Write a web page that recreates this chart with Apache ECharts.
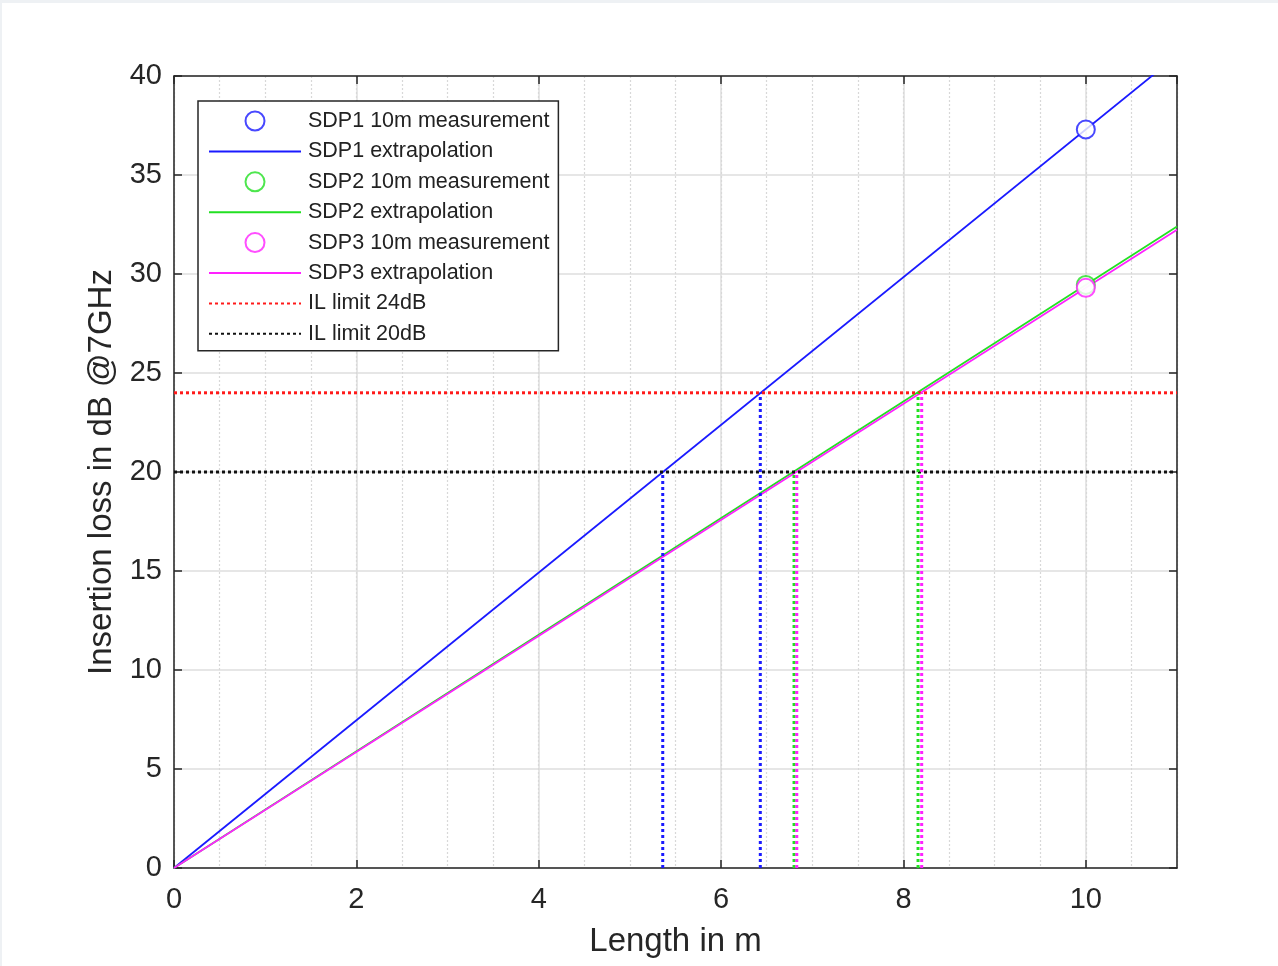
<!DOCTYPE html>
<html>
<head>
<meta charset="utf-8">
<script src="https://cdn.jsdelivr.net/npm/echarts@6/dist/echarts.min.js"></script>
<style>
  html, body { margin: 0; padding: 0; background: #eef1f4; }
  #myChart { position: absolute; left: 2px; top: 3px; width: 1276px; height: 963px; background: #fff; }
</style>
</head>
<body>
<div id="myChart"></div>
<script>
// values
const measLength = 10;
const measSdp1 = 37.3;
const measSdp2 = 29.45;
const measSdp3 = 29.3;
// extrapolated loss at the right edge (11 m)
const endLength = 11;
const endSdp1 = 41.03;
const endSdp2 = 32.4;
const endSdp3 = 32.23;
// limits and lengths where each line crosses them [20dB, 24dB]
const limits = [20, 24];
const crossSdp1 = [5.36, 6.43];
const crossSdp2 = [6.80, 8.16];
const crossSdp3 = [6.83, 8.20];

const FONT = 'Liberation Sans, Arial, sans-serif';
const TXT = '#262626';
const dot = [3, 3];

function vlines(xs, color) {
    return xs.map((x, i) => ({
        type: 'line',
        data: [[x, 0], [x, limits[i]]],
        symbol: 'none',
        silent: true,
        lineStyle: { color: color, width: 3, type: dot },
        z: 3
    }));
}

// line entries in the legend: hide the centre marker, keep the line
const lineItem = name => ({ name: name, itemStyle: { opacity: 0 } });
const circleItem = name => ({ name: name, icon: 'emptyCircle', itemStyle: { borderWidth: 2 } });

let chart = echarts.init(document.getElementById('myChart'));
chart.setOption({
    animation: false,
    textStyle: { fontFamily: FONT },
    grid: { left: 172, top: 73, right: 101, bottom: 98 },
    legend: {
        data: [
            circleItem('SDP1 10m measurement'),
            lineItem('SDP1 extrapolation'),
            circleItem('SDP2 10m measurement'),
            lineItem('SDP2 extrapolation'),
            circleItem('SDP3 10m measurement'),
            lineItem('SDP3 extrapolation'),
            lineItem('IL limit 24dB'),
            lineItem('IL limit 20dB')
        ],
        orient: 'vertical',
        left: 196, top: 98,
        itemWidth: 92, itemHeight: 19, itemGap: 8.4,
        padding: [9, 9, 6, 10],
        backgroundColor: '#fff',
        borderColor: '#262626', borderWidth: 1.5,
        textStyle: { fontFamily: FONT, fontSize: 21.5, color: '#222', padding: [0, 0, 0, 2] }
    },
    xAxis: [
        {
            type: 'value', min: 0, max: 11, interval: 2, position: 'bottom',
            name: 'Length in m', nameLocation: 'middle', nameGap: 57,
            nameTextStyle: { fontSize: 33, color: TXT, fontFamily: FONT },
            axisLine: { show: true, onZero: false, lineStyle: { color: TXT, width: 1.5 } },
            axisTick: { show: true, inside: true, length: 8, lineStyle: { color: TXT, width: 1.5 } },
            axisLabel: { fontSize: 29, color: TXT, margin: 17, showMaxLabel: false },
            splitLine: { show: true, lineStyle: { color: '#dedede', width: 1.5 } }
        },
        {
            type: 'value', min: 0, max: 11, interval: 2, position: 'top',
            axisLine: { show: true, onZero: false, lineStyle: { color: TXT, width: 1.5 } },
            axisTick: { show: true, inside: true, length: 8, lineStyle: { color: TXT, width: 1.5 } },
            axisLabel: { show: false },
            splitLine: { show: false }
        },
        {
            // minor grid every 0.5 m
            type: 'value', min: 0, max: 11, interval: 0.5, position: 'top',
            axisLine: { show: false }, axisTick: { show: false }, axisLabel: { show: false },
            splitLine: { show: true, lineStyle: { color: '#d8d8d8', width: 1.2, type: [2, 2] } }
        }
    ],
    yAxis: [
        {
            type: 'value', min: 0, max: 40, interval: 5, position: 'left',
            name: 'Insertion loss in dB @7GHz', nameLocation: 'middle', nameGap: 56,
            nameTextStyle: { fontSize: 33, color: TXT, fontFamily: FONT },
            axisLine: { show: true, onZero: false, lineStyle: { color: TXT, width: 1.5 } },
            axisTick: { show: true, inside: true, length: 8, lineStyle: { color: TXT, width: 1.5 } },
            axisLabel: { fontSize: 29, color: TXT, margin: 12 },
            splitLine: { show: true, lineStyle: { color: '#dedede', width: 1.5 } }
        },
        {
            type: 'value', min: 0, max: 40, interval: 5, position: 'right',
            axisLine: { show: true, onZero: false, lineStyle: { color: TXT, width: 1.5 } },
            axisTick: { show: true, inside: true, length: 8, lineStyle: { color: TXT, width: 1.5 } },
            axisLabel: { show: false },
            splitLine: { show: false }
        }
    ],
    series: [
        {
            name: 'SDP1 10m measurement', type: 'scatter', data: [[measLength, measSdp1]],
            symbol: 'emptyCircle', symbolSize: 18, z: 5,
            itemStyle: { color: '#1a1aff', borderWidth: 2 }
        },
        {
            name: 'SDP1 extrapolation', type: 'line', data: [[0, 0], [endLength, endSdp1]],
            symbol: 'none', lineStyle: { color: '#1a1aff', width: 1.8 }, itemStyle: { color: '#1a1aff' }
        },
        {
            name: 'SDP2 10m measurement', type: 'scatter', data: [[measLength, measSdp2]],
            symbol: 'emptyCircle', symbolSize: 18, z: 5,
            itemStyle: { color: '#22e022', borderWidth: 2 }
        },
        {
            name: 'SDP2 extrapolation', type: 'line', data: [[0, 0], [endLength, endSdp2]],
            symbol: 'none', lineStyle: { color: '#22e022', width: 1.8 }, itemStyle: { color: '#22e022' }
        },
        {
            name: 'SDP3 10m measurement', type: 'scatter', data: [[measLength, measSdp3]],
            symbol: 'emptyCircle', symbolSize: 18, z: 5,
            itemStyle: { color: '#ff22ff', borderWidth: 2 }
        },
        {
            name: 'SDP3 extrapolation', type: 'line', data: [[0, 0], [endLength, endSdp3]],
            symbol: 'none', lineStyle: { color: '#ff22ff', width: 1.8 }, itemStyle: { color: '#ff22ff' }
        },
        {
            name: 'IL limit 24dB', type: 'line', data: [[0, limits[1]], [endLength, limits[1]]],
            symbol: 'none', lineStyle: { color: '#ff1a1a', width: 3, type: dot }, itemStyle: { color: '#ff1a1a' }
        },
        {
            name: 'IL limit 20dB', type: 'line', data: [[0, limits[0]], [endLength, limits[0]]],
            symbol: 'none', lineStyle: { color: '#111', width: 3, type: dot }, itemStyle: { color: '#111' }
        },
        ...vlines(crossSdp1, '#1a1aff'),
        ...vlines(crossSdp2, '#22e022'),
        ...vlines(crossSdp3, '#ff22ff')
    ]
});
</script>
</body>
</html>
